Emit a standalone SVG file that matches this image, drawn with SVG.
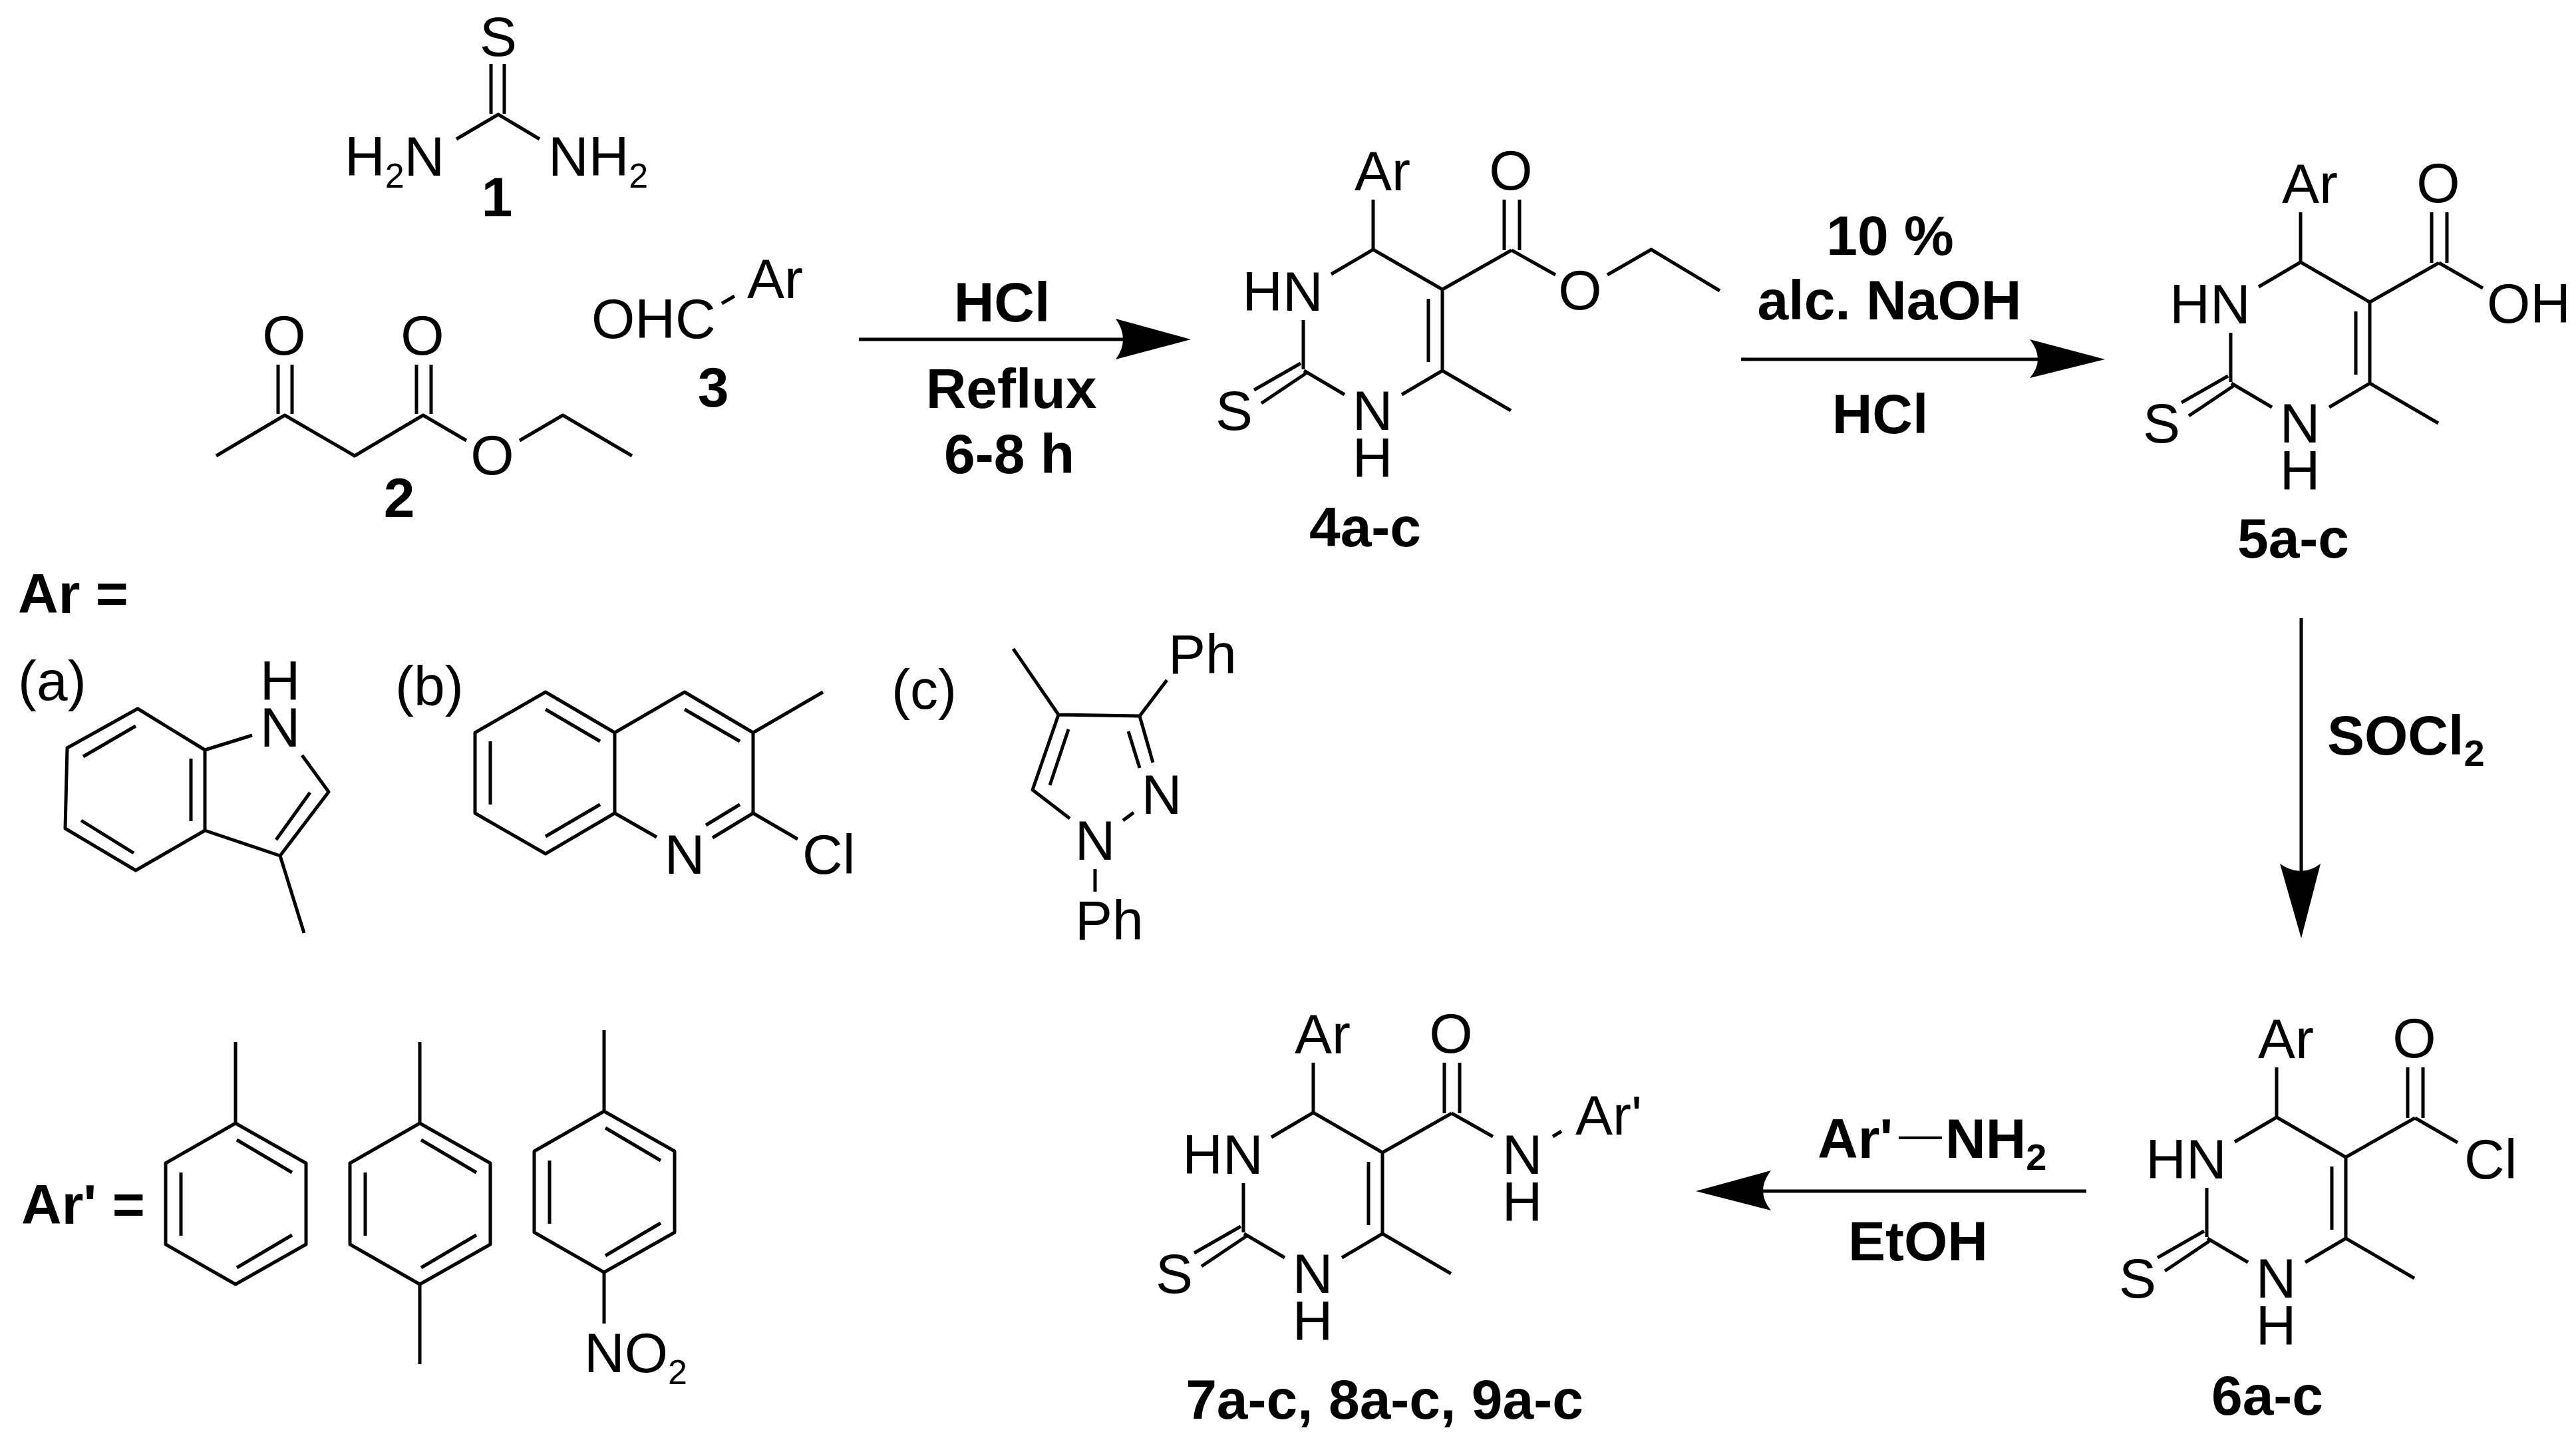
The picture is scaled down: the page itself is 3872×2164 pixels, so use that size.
<svg xmlns="http://www.w3.org/2000/svg" xmlns:xlink="http://www.w3.org/1999/xlink" width="3872" height="2164" viewBox="0 0 3872 2164">
<style>
text{font-family:"Liberation Sans",Arial,sans-serif;font-size:84px;fill:#000}
.m{text-anchor:middle}
.b{font-weight:700}
.r{font-weight:400}
.bond{fill:none;stroke:#000;stroke-width:5;stroke-linecap:butt;stroke-linejoin:round}
.arrow{fill:none;stroke:#000;stroke-width:5}
.head{fill:#000;stroke:none}
</style>
<defs>
<path id="pyrimidine" class="bond" d="M2064,300V375M2001,412L2064,375L2168,435V557M2147,449V544M2107,593L2168,557L2271,617M1959,481V555M1960,557L2021,593M1955,546L1885,586M1966,559L1896,606M2168,435L2272,376M2261,300V376M2284,300V376"/>
<g id="phenyl">
<path class="bond" d="M354,1566V1688L460,1748V1870L354,1930L249,1870V1748L354,1688M356,1713L439,1762M272,1762V1857M356,1905L439,1856"/>
</g>
</defs>
<rect width="3872" height="2164" fill="#fff"/>

<g id="connectors">
<path class="arrow" d="M1291,510H1695M2617,540H3070M3459,929V1315M3136,1790H2638"/>
<path class="head" d="M1790,510L1677,479Q1699,510 1677,540Z"/>
<path class="head" d="M3164,540L3051,510Q3075,540 3051,568Z"/>
<path class="head" d="M3459,1410L3427,1298Q3459,1320 3488,1298Z"/>
<path class="head" d="M2549,1790L2662,1759Q2638,1790 2662,1819Z"/>
</g>

<g id="compound-1">
<path class="bond" d="M738,96V171M758,96V171M686,209L749,172L811,209"/>
<text class="m" x="749" y="84">S</text>
<text x="518" y="264">H<tspan dy="18" font-size="52">2</tspan><tspan dy="-18">N</tspan></text>
<text x="824" y="264">NH<tspan dy="18" font-size="52">2</tspan></text>
<text class="m b" x="747" y="325">1</text>
</g>

<g id="compound-2">
<path class="bond" d="M418,548V622M439,548V622M626,548V622M648,548V622M325,685L428,624L533,685L636,624L701,662M781,662L846,624L950,685"/>
<text class="m" x="427" y="533">O</text>
<text class="m" x="635" y="533">O</text>
<text class="m" x="740" y="713">O</text>
<text class="m b" x="600" y="777">2</text>
</g>

<g id="compound-3">
<path class="bond" d="M1085,456L1104,445"/>
<text x="889" y="508">OHC</text>
<text x="1123" y="448">Ar</text>
<text class="m b" x="1072" y="611">3</text>
</g>

<g id="reagents-1">
<text class="m b" x="1506" y="483">HCl</text>
<text class="m b" x="1520" y="613">Reflux</text>
<text class="m b" x="1517" y="711" xml:space="preserve">6-8 h</text>
</g>

<g id="compound-4">
<use href="#pyrimidine" xlink:href="#pyrimidine"/>
<path class="bond" d="M2272,376L2338,413M2416,413L2482,375L2585,437"/>
<text x="2036" y="286">Ar</text>
<text class="m" x="2271" y="285">O</text>
<text class="m" x="2375" y="465">O</text>
<text class="m" x="1928" y="467">HN</text>
<text class="m" x="1855" y="646">S</text>
<text class="m"><tspan x="2063" y="646">N</tspan><tspan x="2063" y="717">H</tspan></text>
<text class="m b" x="2052" y="821">4a-c</text>
</g>

<g id="reagents-2">
<text class="m b" x="2841" y="383">10 %</text>
<text class="m b" x="2840" y="480">alc. NaOH</text>
<text class="m b" x="2826" y="651">HCl</text>
</g>

<g id="compound-5">
<use href="#pyrimidine" xlink:href="#pyrimidine" transform="translate(1394,19)"/>
<path class="bond" d="M3666,395L3732,433"/>
<text x="3430" y="305">Ar</text>
<text class="m" x="3665" y="304">O</text>
<text x="3738" y="485">OH</text>
<text class="m" x="3322" y="486">HN</text>
<text class="m" x="3249" y="665">S</text>
<text class="m"><tspan x="3457" y="665">N</tspan><tspan x="3457" y="736">H</tspan></text>
<text class="m b" x="3447" y="838">5a-c</text>
</g>

<text class="b" x="3498" y="1134" id="reagent-socl2">SOCl<tspan dy="17" font-size="56">2</tspan></text>

<g id="compound-6">
<use href="#pyrimidine" xlink:href="#pyrimidine" transform="translate(1358,1304)"/>
<path class="bond" d="M3630,1680L3694,1717"/>
<text x="3394" y="1590">Ar</text>
<text class="m" x="3629" y="1589">O</text>
<text x="3704" y="1771">Cl</text>
<text class="m" x="3286" y="1771">HN</text>
<text class="m" x="3213" y="1950">S</text>
<text class="m"><tspan x="3421" y="1950">N</tspan><tspan x="3421" y="2021">H</tspan></text>
<text class="m b" x="3408" y="2126">6a-c</text>
</g>

<g id="reagents-3">
<text class="b" x="2732" y="1740">Ar'<tspan class="r" x="2854" dy="-14" font-size="65">—</tspan><tspan x="2924" dy="14">NH</tspan><tspan dy="18" font-size="56">2</tspan></text>
<text class="m b" x="2883" y="1894">EtOH</text>
</g>

<g id="compound-7">
<use href="#pyrimidine" xlink:href="#pyrimidine" transform="translate(-90,1297)"/>
<path class="bond" d="M2182,1673L2244,1708M2334,1708L2347,1700"/>
<text x="1946" y="1583">Ar</text>
<text class="m" x="2181" y="1582">O</text>
<text class="m"><tspan x="2288" y="1764">N</tspan><tspan x="2288" y="1835">H</tspan></text>
<text x="2368" y="1705">Ar'</text>
<text class="m" x="1838" y="1764">HN</text>
<text class="m" x="1765" y="1943">S</text>
<text class="m"><tspan x="1973" y="1943">N</tspan><tspan x="1973" y="2014">H</tspan></text>
<text class="m b" x="2081" y="2132">7a-c, 8a-c, 9a-c</text>
</g>

<g id="ar-label"><text class="b" x="27" y="921">Ar =</text></g>

<g id="ar-a">
<text x="27" y="1052">(a)</text>
<path class="bond" d="M207,1065L308,1127V1248L204,1308L98,1245L101,1124ZM204,1091L125,1137M287,1140V1234M122,1233L201,1282M308,1127L379,1105M454,1135L494,1190L421,1286L308,1248M466,1191L415,1262M421,1286L457,1402"/>
<text class="m"><tspan x="421" y="1052">H</tspan><tspan x="421" y="1122">N</tspan></text>
</g>

<g id="ar-b">
<text x="594" y="1060">(b)</text>
<path class="bond" d="M820,1040L924,1101V1222L820,1283L714,1222V1101ZM820,1066L902,1114M737,1114V1209M820,1257L902,1209M924,1101L1029,1040L1132,1101V1222M924,1222L987,1258M1029,1066L1112,1114M1112,1209L1061,1240M1132,1222L1071,1259M1132,1222L1199,1261M1132,1101L1237,1040"/>
<text class="m" x="1029" y="1313">N</text>
<text x="1206" y="1313">Cl</text>
</g>

<g id="ar-c">
<text x="1340" y="1065">(c)</text>
<path class="bond" d="M1523,975L1591,1074L1713,1076L1754,1022M1713,1076L1733,1146M1696,1099L1713,1154M1704,1221L1688,1233M1591,1074L1552,1187L1608,1230M1606,1096L1578,1180M1646,1306V1340"/>
<text x="1756" y="1012">Ph</text>
<text class="m" x="1746" y="1223">N</text>
<text class="m" x="1646" y="1292">N</text>
<text x="1616" y="1412">Ph</text>
</g>

<g id="arprime-label"><text class="b" x="32" y="1839">Ar' =</text></g>

<g id="arprime-1"><use href="#phenyl" xlink:href="#phenyl"/></g>
<g id="arprime-2">
<use href="#phenyl" xlink:href="#phenyl" transform="translate(277,0)"/>
<path class="bond" d="M631,1930V2050"/>
</g>
<g id="arprime-3">
<use href="#phenyl" xlink:href="#phenyl" transform="translate(554,-18)"/>
<path class="bond" d="M908,1912V1989"/>
<text x="878" y="2062">NO<tspan dy="18" font-size="52">2</tspan></text>
</g>
</svg>
